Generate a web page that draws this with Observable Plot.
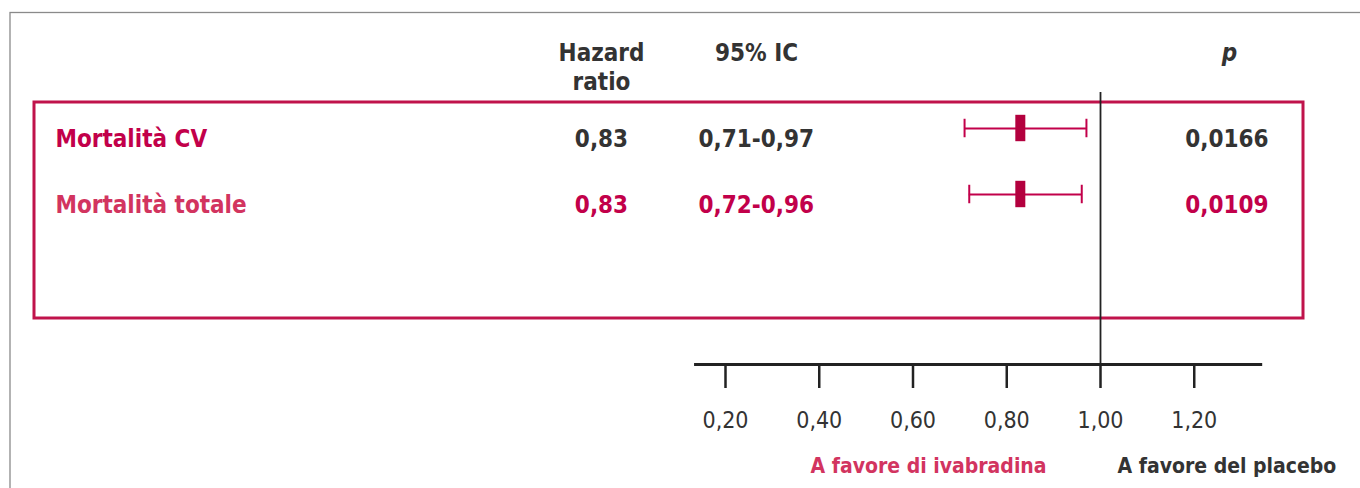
<!DOCTYPE html>
<html><head><meta charset="utf-8">
<script src="https://cdn.jsdelivr.net/npm/d3@7"></script>
<script src="https://cdn.jsdelivr.net/npm/@observablehq/plot@0.6"></script>
<style>body{margin:0;background:#fff;overflow:hidden}</style>
</head><body><div id="chart"></div>
<script>
// ---- data ----
const rows = ["Mortalità CV", "Mortalità totale"];
const hr = [0.83, 0.83];
const ciLow = [0.71, 0.72];
const ciHigh = [0.97, 0.96];
const hrLabels = ["0,83", "0,83"];
const ciLabels = ["0,71-0,97", "0,72-0,96"];
const pLabels = ["0,0166", "0,0109"];
const ticks = [0.2, 0.4, 0.6, 0.8, 1.0, 1.2];
const tickLabels = ["0,20", "0,40", "0,60", "0,80", "1,00", "1,20"];
const headers = ["Hazard", "ratio", "95% IC", "p"];
const notes = ["A favore di ivabradina", "A favore del placebo"];

// ---- style / layout ----
const crimson = "#c2004a";
const boxStroke = "#c0134b";
const pink = "#d2345f";
const dark = "#333333";
const font = "'DejaVu Sans Condensed','Liberation Sans Narrow',sans-serif";
const labelFill = [crimson, pink];
const valueFill = [dark, crimson];
const L = {hdr1: -1.21, hdr2: -0.78, axisY: 3.5, tickEnd: 3.864, tickLabel: 4.35, note: 5.045, refTop: -0.621,
           axisMin: 0.134, axisMax: 1.346};

const data = rows.map((name, i) => ({name, row: i, hr: hr[i], lo: ciLow[i], hi: ciHigh[i],
  hrText: hrLabels[i], ciText: ciLabels[i], p: pLabels[i]}));

const big = {fontSize: 24, fontWeight: "bold", lineAnchor: "middle"};

const chart = Plot.plot({
  width: 1360, height: 488, margin: 0,
  x: {domain: [0.2, 1.0], range: [725, 1100], axis: null},
  y: {domain: [0, 1], range: [133, 199], axis: null},
  style: {fontFamily: font, background: "#fff"},
  marks: [
    Plot.frame({stroke: "#8a8a8a", strokeWidth: 1.3, insetLeft: 9.5, insetTop: 12, insetRight: -3, insetBottom: -3}),
    Plot.frame({stroke: boxStroke, strokeWidth: 3, insetLeft: 33.5, insetTop: 101.5, insetRight: 57.5, insetBottom: 170.5}),
    Plot.ruleX([1], {y1: L.refTop, y2: L.axisY, stroke: "#222", strokeWidth: 1.8}),
    Plot.ruleY([L.axisY], {x1: L.axisMin, x2: L.axisMax, stroke: "#222", strokeWidth: 3}),
    Plot.ruleX(ticks, {x: d => d, y1: L.axisY, y2: L.tickEnd, stroke: "#222", strokeWidth: 2.5}),
    Plot.text(ticks, {x: d => d, y: L.tickLabel, text: (d, i) => tickLabels[i], fontSize: 23, fill: dark, lineAnchor: "middle"}),
    // confidence intervals
    Plot.ruleY(data, {y: "row", x1: "lo", x2: "hi", dy: -5, stroke: crimson, strokeWidth: 2}),
    Plot.ruleX(data, {x: "lo", y1: d => d.row - 0.14, y2: d => d.row + 0.14, dy: -5, stroke: crimson, strokeWidth: 2}),
    Plot.ruleX(data, {x: "hi", y1: d => d.row - 0.14, y2: d => d.row + 0.14, dy: -5, stroke: crimson, strokeWidth: 2}),
    Plot.rect(data, {x1: "hr", x2: "hr", y1: d => d.row - 0.2, y2: d => d.row + 0.2, insetLeft: -5, insetRight: -5, dy: -5, fill: "#b3003e"}),
    // row texts
    Plot.text(data, {y: "row", text: "name", frameAnchor: "left", dx: 55, dy: 6, textAnchor: "start", fill: (d, i) => labelFill[i], ...big}),
    Plot.text(data, {y: "row", text: "hrText", frameAnchor: "left", dx: 601, dy: 6, textAnchor: "middle", fill: (d, i) => valueFill[i], ...big}),
    Plot.text(data, {y: "row", text: "ciText", frameAnchor: "left", dx: 698, dy: 6, textAnchor: "start", fill: (d, i) => valueFill[i], ...big}),
    Plot.text(data, {y: "row", text: "p", frameAnchor: "left", dx: 1268, dy: 6, textAnchor: "end", fill: (d, i) => valueFill[i], ...big}),
    // headers
    Plot.text([headers[0]], {y: L.hdr1, text: d => d, frameAnchor: "left", dx: 601, textAnchor: "middle", fill: dark, ...big}),
    Plot.text([headers[1]], {y: L.hdr2, text: d => d, frameAnchor: "left", dx: 601, textAnchor: "middle", fill: dark, ...big}),
    Plot.text([headers[2]], {y: L.hdr1, text: d => d, frameAnchor: "left", dx: 756, textAnchor: "middle", fill: dark, ...big}),
    Plot.text([headers[3]], {y: L.hdr1, text: d => d, frameAnchor: "left", dx: 1229, textAnchor: "middle", fill: dark, fontStyle: "italic", ...big}),
    // notes
    Plot.text([notes[0]], {y: L.note, text: d => d, frameAnchor: "left", dx: 810, textAnchor: "start", fill: pink, ...big, fontSize: 21}),
    Plot.text([notes[1]], {y: L.note, text: d => d, frameAnchor: "left", dx: 1117, textAnchor: "start", fill: dark, ...big, fontSize: 21})
  ]
});
document.getElementById("chart").append(chart);
</script></body></html>
